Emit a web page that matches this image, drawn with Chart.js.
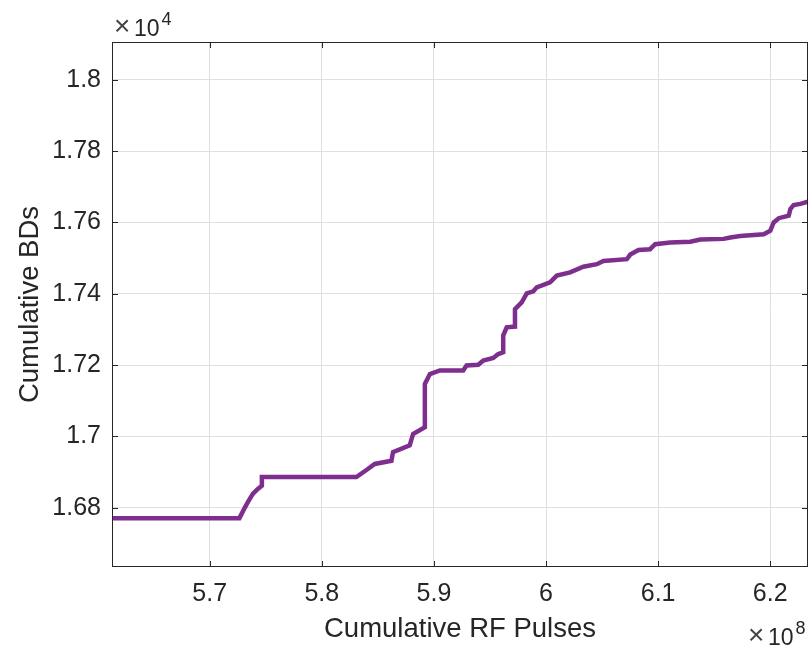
<!DOCTYPE html>
<html>
<head>
<meta charset="utf-8">
<script src="https://cdn.jsdelivr.net/npm/chart.js@4/dist/chart.umd.min.js"></script>
<style>
  body { margin: 0; background: #fff; }
</style>
</head>
<body>
<canvas id="bd-chart" width="810" height="647"></canvas>
<script>
// cumulative RF pulses (x 10^8) and cumulative breakdowns (x 10^4)
const rfPulses = [5.6100, 5.7265, 5.7312, 5.7340, 5.7384, 5.7429, 5.7465, 5.7465, 5.8308, 5.8398,
  5.8472, 5.8621, 5.8635, 5.8784, 5.8814, 5.8919, 5.8919, 5.8964, 5.9053, 5.9261,
  5.9291, 5.9395, 5.9440, 5.9529, 5.9574, 5.9618, 5.9618, 5.9649, 5.9723, 5.9723,
  5.9783, 5.9828, 5.9887, 5.9917, 6.0036, 6.0096, 6.0215, 6.0333, 6.0453, 6.0512,
  6.0721, 6.0751, 6.0825, 6.0928, 6.0974, 6.1108, 6.1287, 6.1376, 6.1584, 6.1644,
  6.1733, 6.1942, 6.2001, 6.2031, 6.2076, 6.2165, 6.2180, 6.2209, 6.2269, 6.2344];
const cumBDs = [1.6771, 1.6771, 1.6800, 1.6816, 1.6839, 1.6853, 1.6862, 1.6886, 1.6886, 1.6906,
  1.6923, 1.6932, 1.6956, 1.6975, 1.7007, 1.7026, 1.7147, 1.7175, 1.7185, 1.7185,
  1.7199, 1.7201, 1.7213, 1.7220, 1.7231, 1.7236, 1.7283, 1.7306, 1.7308, 1.7357,
  1.7376, 1.7401, 1.7407, 1.7418, 1.7432, 1.7451, 1.7460, 1.7476, 1.7483, 1.7492,
  1.7497, 1.7510, 1.7523, 1.7525, 1.7539, 1.7544, 1.7546, 1.7552, 1.7554, 1.7558,
  1.7562, 1.7567, 1.7577, 1.7600, 1.7612, 1.7619, 1.7638, 1.7649, 1.7652, 1.7659];

const xRange = [5.6128, 6.2337];
const yRange = [1.6634, 1.8106];
const xExponent = '8';
const yExponent = '4';

const FONT = '"Liberation Sans", Arial, Helvetica, sans-serif';
const TEXT = '#262626';

// draws "x10^n" with its left edge at left, baseline at base
function drawExponent(ctx, exp, left, base) {
  ctx.font = '28px ' + FONT;
  ctx.fillStyle = '#444';
  ctx.fillText('\u00d7', left - 1, base - 1);
  ctx.fillStyle = TEXT;
  ctx.font = '23px ' + FONT;
  ctx.fillText('10', left + 19, base);
  const w = ctx.measureText('10').width;
  ctx.font = '18px ' + FONT;
  ctx.fillText(exp, left + 19 + w + 2, base - 11);
}

// box round the axes, inward ticks on all four sides, and the x10^n labels
const frame = {
  id: 'frame',
  afterDraw(chart) {
    const { ctx, chartArea: a, scales: { x, y } } = chart;
    ctx.save();
    ctx.strokeStyle = TEXT;
    ctx.lineWidth = 1;
    ctx.strokeRect(a.left + 0.5, a.top + 0.5, a.right - a.left - 1, a.bottom - a.top - 1);

    ctx.beginPath();
    x.ticks.forEach(t => {
      const px = Math.round(x.getPixelForValue(t.value)) + 0.5;
      ctx.moveTo(px, a.bottom); ctx.lineTo(px, a.bottom - 6);
      ctx.moveTo(px, a.top); ctx.lineTo(px, a.top + 6);
    });
    y.ticks.forEach(t => {
      const py = Math.round(y.getPixelForValue(t.value)) + 0.5;
      ctx.moveTo(a.left, py); ctx.lineTo(a.left + 6, py);
      ctx.moveTo(a.right, py); ctx.lineTo(a.right - 6, py);
    });
    ctx.stroke();

    ctx.textAlign = 'left';
    ctx.textBaseline = 'alphabetic';
    drawExponent(ctx, yExponent, a.left + 3, a.top - 6);
    drawExponent(ctx, xExponent, a.right - 59, 645);
    ctx.restore();
  }
};

const ctx = document.getElementById('bd-chart').getContext('2d');
new Chart(ctx, {
  type: 'line',
  data: {
    datasets: [{
      data: rfPulses.map((v, i) => ({ x: v, y: cumBDs[i] })),
      borderColor: '#7E2F8E',
      borderWidth: 4.5,
      pointRadius: 0,
      tension: 0,
      fill: false
    }]
  },
  options: {
    responsive: false,
    animation: false,
    layout: { padding: { top: 42, right: 2, left: 0, bottom: 0 } },
    plugins: { legend: { display: false }, tooltip: { enabled: false } },
    scales: {
      x: {
        type: 'linear',
        min: xRange[0],
        max: xRange[1],
        afterFit: s => { s.height = 80; },
        grid: { color: '#dfdfdf', drawTicks: false },
        border: { display: false },
        ticks: {
          stepSize: 0.1,
          includeBounds: false,
          padding: 12,
          color: TEXT,
          font: { family: FONT, size: 25 },
          maxRotation: 0,
          callback: v => String(Number(v.toFixed(1)))
        },
        title: {
          display: true,
          text: 'Cumulative RF Pulses',
          color: TEXT,
          font: { family: FONT, size: 27.5 },
          padding: { top: 0, bottom: 1 }
        }
      },
      y: {
        type: 'linear',
        min: yRange[0],
        max: yRange[1],
        afterFit: s => { s.width = 112; },
        grid: { color: '#dfdfdf', drawTicks: false },
        border: { display: false },
        ticks: {
          stepSize: 0.02,
          includeBounds: false,
          padding: 11,
          color: TEXT,
          font: { family: FONT, size: 25 },
          callback: v => String(Number(v.toFixed(2)))
        },
        title: {
          display: true,
          text: 'Cumulative BDs',
          color: TEXT,
          font: { family: FONT, size: 27.5 },
          padding: { top: 14, bottom: 0 }
        }
      }
    }
  },
  plugins: [frame]
});
</script>
</body>
</html>
